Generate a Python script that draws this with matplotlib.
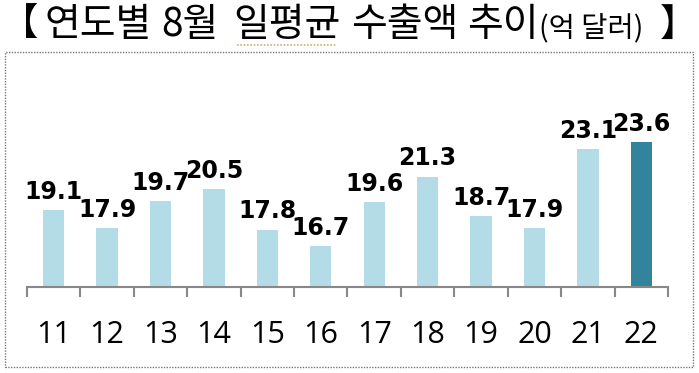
import matplotlib.pyplot as plt
from matplotlib.patches import Rectangle
from matplotlib.lines import Line2D

# Data
years = ['11', '12', '13', '14', '15', '16', '17', '18', '19', '20', '21', '22']
values = [19.1, 17.9, 19.7, 20.5, 17.8, 16.7, 19.6, 21.3, 18.7, 17.9, 23.1, 23.6]
title_words = ['연도별', '8월', '일평균', '수출액', '추이', '(억 달러)']
light = '#b4dce6'
dark = '#31849b'

W, H = 699, 373
fig = plt.figure(figsize=(W / 100, H / 100), dpi=100)

# dotted frame around the chart
fig.patches.append(Rectangle((5 / W, 6 / H), 688 / W, 315 / H, transform=fig.transFigure,
                             fill=False, edgecolor='#777777', linestyle=(0, (1, 1)), linewidth=1))

# title, word by word
kr = ['Noto Sans CJK KR', 'DejaVu Sans']
centers = [98, 190, 287, 405, 503, 591]
sizes = [28, 28, 28, 28, 28, 20.5]
for w, cx, fs in zip(title_words, centers, sizes):
    yy = 25 if fs > 22 else 29
    fig.text(cx / W, 1 - yy / H, w, family=kr, fontsize=fs, va='center', ha='center')
fig.text(1 / W, 1 - 25 / H, '【', family=kr, fontsize=27, va='center', ha='left')
fig.text(697 / W, 1 - 25 / H, '】', family=kr, fontsize=27, va='center', ha='right')
fig.lines.append(Line2D([237 / W, 337 / W], [1 - 45 / H, 1 - 45 / H], transform=fig.transFigure,
                        color='#c8b070', linestyle=(0, (1, 1)), linewidth=1.2))

ax = fig.add_axes([27 / W, (H - 287) / H, 641 / W, 177 / H])
colors = [light] * (len(values) - 1) + [dark]
x = range(len(years))
bars = ax.bar(x, values, width=0.4, color=colors)
ax.set_xlim(-0.5, len(years) - 0.5)
ax.set_ylim(14.0, 25.7)

for b, v in zip(bars, values):
    ax.annotate(f'{v}', (b.get_x() + b.get_width() / 2, v), xytext=(0, 8),
                textcoords='offset points', ha='center', va='baseline',
                fontsize=17, fontweight='bold', family='DejaVu Sans')

for s in ['top', 'right', 'left']:
    ax.spines[s].set_visible(False)
ax.spines['bottom'].set_color('#888888')
ax.spines['bottom'].set_linewidth(1.5)
ax.set_yticks([])
ax.set_xticks([i - 0.5 for i in range(len(years) + 1)])
ax.set_xticklabels([])
ax.tick_params(axis='x', length=7, width=1.5, color='#888888')
for i, y in enumerate(years):
    ax.annotate(y, (i, 14.0), xytext=(0, -56), textcoords='offset pixels',
                ha='center', va='baseline', fontsize=22, family='Open Sans')

plt.savefig('out.png', dpi=100)
